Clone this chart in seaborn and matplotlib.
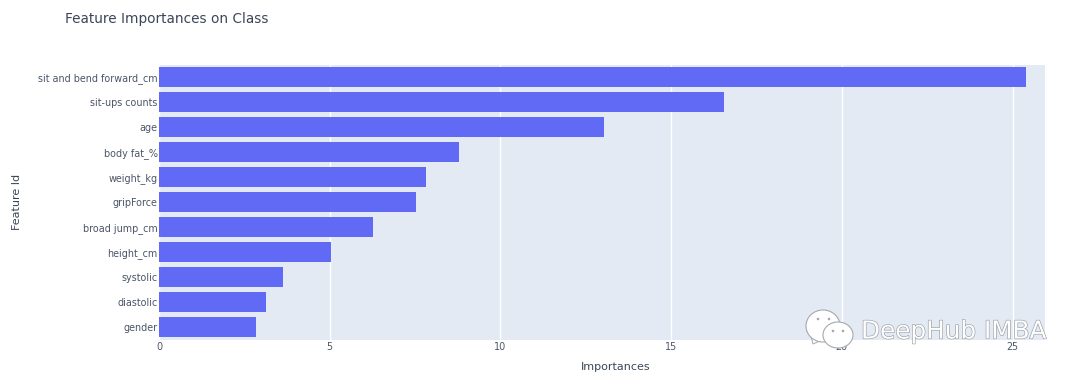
import matplotlib
matplotlib.use("Agg")
import matplotlib.pyplot as plt
import matplotlib.patheffects as pe
from matplotlib.patches import Ellipse, Polygon
import seaborn as sns
import pandas as pd

features = ["sit and bend forward_cm", "sit-ups counts", "age", "body fat_%", "weight_kg",
            "gripForce", "broad jump_cm", "height_cm", "systolic", "diastolic", "gender"]
importances = [25.4, 16.55, 13.02, 8.78, 7.82, 7.53, 6.27, 5.03, 3.62, 3.12, 2.83]
ticks = [0, 5, 10, 15, 20, 25]

plt.rcParams['font.family'] = ['DejaVu Sans']
W, H = 1080, 381
fig = plt.figure(figsize=(W/100, H/100), dpi=100)
L, R, T, B = 159, 1045, 64.5, 339.5
ax = fig.add_axes([L/W, 1-B/H, (R-L)/W, (B-T)/H])
ax.set_facecolor("#E3EAF3")
df = pd.DataFrame({"f": features, "v": importances})
sns.barplot(data=df, y="f", x="v", orient="h", color="#606AF4", saturation=1, width=0.8, ax=ax)
ax.set_xlim(0, 25.95)
ax.set_ylim(10.5, -0.5)
ax.set_xticks(ticks)
ax.grid(axis="x", color="white", lw=1.0)
ax.set_axisbelow(True)
for s in ax.spines.values():
    s.set_visible(False)
ax.tick_params(length=0, labelsize=6.9, colors="#4A5568", pad=1)
ax.tick_params(axis="x", pad=1.5)
ax.set_xlabel("Importances", fontsize=8, color="#3A4658")
ax.set_ylabel("Feature Id", fontsize=8, color="#3A4658")
ax.xaxis.set_label_coords((615.5-L)/(R-L), -(367-B)/(B-T), transform=ax.transAxes)
ax.yaxis.set_label_coords(-(159-17)/(R-L), (B-201.5)/(B-T), transform=ax.transAxes)
ax.xaxis.label.set_verticalalignment("center")
ax.yaxis.label.set_verticalalignment("center")
fig.text(65/W, 1-19.5/H, "Feature Importances on Class", fontsize=9.85, color="#3A4658", va="center")

fig.text(861/W, 1-331.5/H, "DeepHub IMBA", fontsize=17.8, color="white", va="center",
         path_effects=[pe.Stroke(linewidth=0.9, foreground="#9a9ea4"), pe.Normal()], zorder=8)

def px(x, y):
    return (x/W, 1-y/H)

for cx, cy, w, h, z in [(823, 326, 34, 32, 5), (838, 335, 30, 26, 6)]:
    fig.add_artist(Ellipse(px(cx, cy), w/W, h/H, transform=fig.transFigure,
                           fc="white", ec="#a5a9ae", lw=0.8, zorder=z))
fig.add_artist(Polygon([px(811, 336), px(813, 344), px(822, 340)], transform=fig.transFigure,
                       fc="white", ec="#a5a9ae", lw=0.7, zorder=4))
for cx, cy, z in [(818, 319, 7), (829, 319, 7), (833, 331, 7), (843, 331, 7)]:
    fig.add_artist(Ellipse(px(cx, cy), 2.6/W, 2.6/H, transform=fig.transFigure,
                           fc="#a5a9ae", ec="none", zorder=z))
fig.savefig("out.png", dpi=100)
